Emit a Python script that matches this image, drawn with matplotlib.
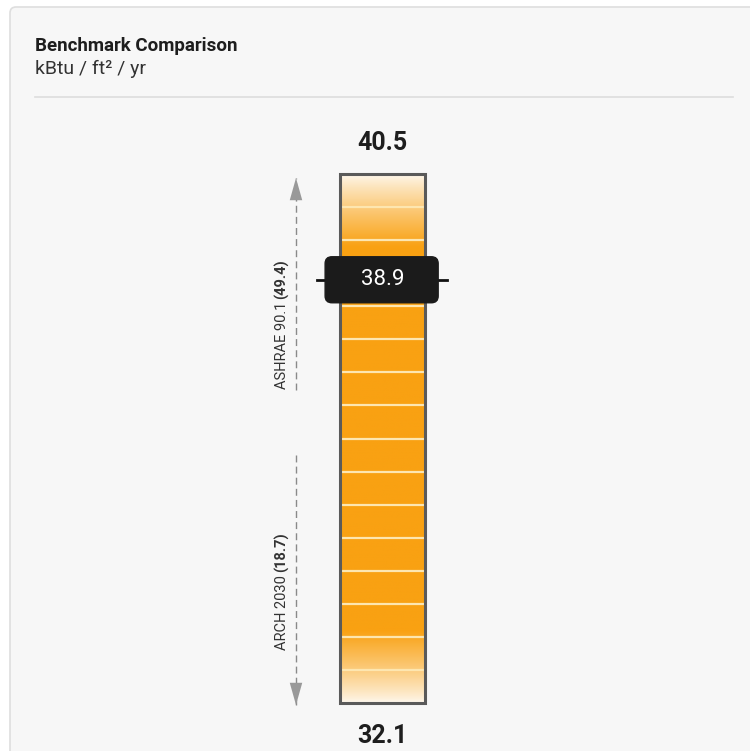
import numpy as np
import matplotlib.pyplot as plt
from matplotlib import transforms
from matplotlib.patches import FancyBboxPatch, Rectangle
from matplotlib.lines import Line2D

# data
scale_min = 32.1
scale_max = 40.5
current_value = 38.9
n_segments = 16
upper_benchmark = ("ASHRAE 90.1", "(49.4)")
lower_benchmark = ("ARCH 2030", "(18.7)")

narrow = ['Liberation Sans Narrow', 'DejaVu Sans Condensed', 'Roboto']

fig = plt.figure(figsize=(7.5, 7.51), dpi=100)
fig.patch.set_facecolor('white')

# card background
card = FancyBboxPatch((10 / 750, -0.1), 1.2, 0.1 + (751 - 7) / 751,
                      boxstyle="round,pad=0,rounding_size=0.008",
                      transform=fig.transFigure, facecolor='#f7f7f7',
                      edgecolor='#dedede', linewidth=1.2, zorder=-5)
fig.patches.append(card)
fig.text(35 / 750, 1 - 46 / 751, "Benchmark Comparison", family=narrow,
         fontweight='bold', fontsize=13.5, color='#1e1e1e', va='center')
fig.text(35 / 750, 1 - 69 / 751, "kBtu / ft² / yr", family=narrow,
         fontsize=14, color='#333333', va='center')
fig.lines.append(Line2D([35 / 750, 733 / 750], [1 - 97 / 751] * 2,
                        transform=fig.transFigure, color='#dddddd', lw=1.2))

# bar axes
ax = fig.add_axes([340 / 750, 48 / 751, 85 / 750, 529 / 751])
ax.set_xlim(0, 1)
ax.set_ylim(scale_min, scale_max)
ax.axis('off')

orange = np.array([249, 161, 18]) / 255
pale = np.array([254, 248, 238]) / 255
t = np.linspace(0, 1, 600)
edge = np.minimum(t, 1 - t) / (2.2 / n_segments)
f = np.clip(edge, 0, 1) ** 0.85
colors = pale[None, :] * (1 - f[:, None]) + orange[None, :] * f[:, None]
ax.imshow(colors[:, None, :], extent=(0, 1, scale_min, scale_max),
          aspect='auto', origin='lower', zorder=1)

bounds = np.linspace(scale_min, scale_max, n_segments + 1)
for b in bounds[1:-1]:
    ax.axhline(b, color='#fde6b0', lw=1.6, zorder=2)
ax.add_patch(Rectangle((0, scale_min), 1, scale_max - scale_min, fill=False,
                       edgecolor='#5a5a5a', lw=2.2, zorder=3, clip_on=False))

# scale end labels
for val, off in [(scale_max, 22), (scale_min, -24)]:
    ax.annotate(f"{val}", (0.5, val), xytext=(0, off),
                textcoords='offset points', ha='center', va='center',
                family=narrow, fontweight='bold', fontsize=18,
                color='#1e1e1e', annotation_clip=False)

# current value marker
blend = transforms.blended_transform_factory(ax.transAxes, ax.transData)
px_y = (scale_max - scale_min) / 529
px_x = 1 / 85
mark_y = current_value - 5 * px_y
ax.plot([-0.27, 1.26], [mark_y, mark_y], color='#111111',
        lw=2, transform=blend, clip_on=False, zorder=4)
ax.add_patch(FancyBboxPatch((-0.175, mark_y - 23 * px_y), 1.33, 46 * px_y,
                            boxstyle="round,pad=0,rounding_size=0.08",
                            mutation_aspect=px_y / px_x, transform=blend,
                            facecolor='#1b1b1b', edgecolor='#1b1b1b',
                            clip_on=False, zorder=5))
ax.text(0.5, mark_y, f"{current_value}", transform=blend, ha='center',
        va='center', family=narrow, fontsize=16, color='white', zorder=6)

# off-scale benchmark arrows
ax_x = -44 / 85
up_top = scale_max - 4 * px_y
up_bot = scale_max - 216 * px_y
dn_top = scale_max - 281 * px_y
dn_bot = scale_min - 2 * px_y
for y0, y1 in [(up_bot, up_top), (dn_top, dn_bot)]:
    ax.plot([ax_x, ax_x], [y0, y1], transform=blend, color='#8a8a8a', lw=1,
            ls=(0, (5, 3)), clip_on=False, zorder=2)
    ax.annotate('', xy=(ax_x, y1), xytext=(ax_x, y1 + np.sign(y0 - y1) * 22 * px_y),
                xycoords=blend, textcoords=blend, annotation_clip=False,
                arrowprops=dict(arrowstyle='-|>,head_length=1.6,head_width=0.45',
                                color='#999999', lw=0, shrinkA=0, shrinkB=0))

lab_x = -58 / 85
for (plain, bold), split in [(upper_benchmark, scale_max - 128 * px_y),
                             (lower_benchmark, scale_max - 401 * px_y)]:
    ax.text(lab_x, split, plain, transform=blend, rotation=90,
            rotation_mode='anchor', ha='right', va='center', family=narrow,
            fontsize=10.5, color='#333333')
    ax.text(lab_x, split + 3 * px_y, bold, transform=blend, rotation=90,
            rotation_mode='anchor', ha='left', va='center', family=narrow,
            fontsize=10.5, fontweight='bold', color='#333333')

fig.savefig('out.png', dpi=100, facecolor='white')
